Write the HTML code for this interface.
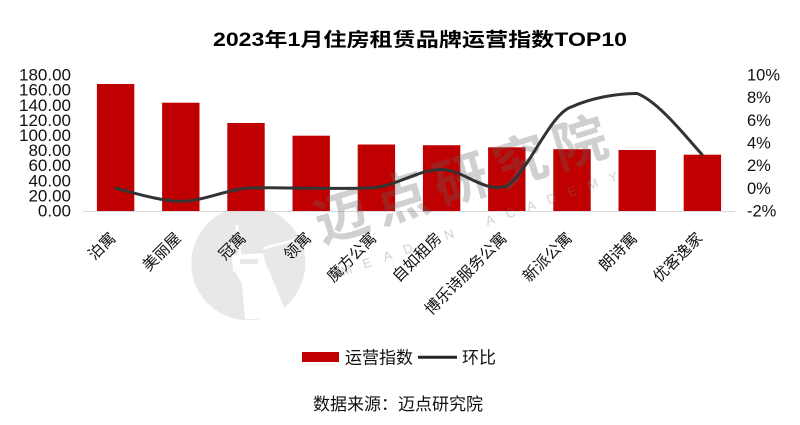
<!DOCTYPE html>
<html><head><meta charset="utf-8"><style>
html,body{margin:0;padding:0;background:#fff;}
svg{display:block;}
text{font-family:"Liberation Sans","Noto Sans CJK SC",sans-serif;}
</style></head><body>
<svg width="800" height="425" viewBox="0 0 800 425" xmlns="http://www.w3.org/2000/svg">
<rect width="800" height="425" fill="#fff"/>
<!-- title -->
<text x="213" y="46" font-size="19" font-weight="bold" fill="#000" textLength="414" lengthAdjust="spacingAndGlyphs">2023年1月住房租赁品牌运营指数TOP10</text>

<!-- watermark circle -->
<circle cx="248.3" cy="263.3" r="57" fill="#e8e8e8"/>
<g fill="#fff">
<polygon points="235,271.7 268.3,268.3 285,310 280,318.3 245,319.3 241.7,283.3"/>
<polygon points="231.7,255 263.3,253.3 266.7,268.3 233.3,271.7"/>
<line x1="236.7" y1="225" x2="240" y2="255" stroke="#fff" stroke-width="2.5"/>
<line x1="263.3" y1="248.3" x2="295" y2="240" stroke="#fff" stroke-width="2.5"/>
</g>
<rect x="240" y="259" width="18" height="5" fill="#e8e8e8"/>

<!-- bars -->
<g fill="#C00000">
<rect x="96.9" y="84" width="37.4" height="127"/>
<rect x="162.1" y="102.7" width="37.4" height="108.3"/>
<rect x="227.3" y="123" width="37.4" height="88"/>
<rect x="292.5" y="135.7" width="37.4" height="75.3"/>
<rect x="357.7" y="144.5" width="37.4" height="66.5"/>
<rect x="422.9" y="145.2" width="37.4" height="65.8"/>
<rect x="488.1" y="147.3" width="37.4" height="63.7"/>
<rect x="553.3" y="149.2" width="37.4" height="61.8"/>
<rect x="618.5" y="150" width="37.4" height="61"/>
<rect x="683.7" y="154.7" width="37.4" height="56.3"/>
</g>
<line x1="83" y1="211.5" x2="735" y2="211.5" stroke="#d9d9d9" stroke-width="1"/>

<!-- watermark text -->
<g fill="rgba(100,100,100,0.3)" font-size="54" font-weight="bold" text-anchor="middle">
<text x="342" y="236" transform="rotate(-17 342 217)">迈</text>
<text x="401.5" y="217.5" transform="rotate(-17 401.5 198.5)">点</text>
<text x="461" y="199" transform="rotate(-17 461 180)">研</text>
<text x="520.5" y="180.5" transform="rotate(-17 520.5 161.5)">究</text>
<text x="580" y="162" transform="rotate(-17 580 143)">院</text>
</g>
<g fill="rgba(120,120,120,0.35)" font-size="13" text-anchor="middle">
<text x="346.5" y="274.5" transform="rotate(-19 346.5 270)">M</text>
<text x="367" y="267.5" transform="rotate(-19 367 263)">E</text>
<text x="387.5" y="260.3" transform="rotate(-19 387.5 255.8)">A</text>
<text x="408" y="253.2" transform="rotate(-19 408 248.7)">D</text>
<text x="428.5" y="246" transform="rotate(-19 428.5 241.5)">I</text>
<text x="449" y="238.9" transform="rotate(-19 449 234.4)">N</text>
<text x="490" y="224.5" transform="rotate(-19 490 220)">A</text>
<text x="510.5" y="217.3" transform="rotate(-19 510.5 212.8)">C</text>
<text x="531" y="210.2" transform="rotate(-19 531 205.7)">A</text>
<text x="551.5" y="203" transform="rotate(-19 551.5 198.5)">D</text>
<text x="572" y="195.9" transform="rotate(-19 572 191.4)">E</text>
<text x="592.5" y="188.7" transform="rotate(-19 592.5 184.2)">M</text>
<text x="613" y="181.5" transform="rotate(-19 613 177)">Y</text>
</g>

<!-- line series -->
<path d="M115.6,188.3 C126.5,190.5 159,201.3 180.8,201.3 C202.5,201.3 224.3,190.5 246,188.3 C267.7,186.8 289.5,188.3 311.2,188.3 C332.9,188.3 354.7,189 376.4,187.5 C398,184.5 420,169.3 441.6,169.5 C463,169.3 485,194 506.8,186 C528.5,172 550,113 572,106.7 C590,98.5 615,93.5 637.2,93.5 C659,102 686,137 702,154.5" fill="none" stroke="#333" stroke-width="3" stroke-linecap="round" stroke-linejoin="round"/>

<!-- left axis labels -->
<g font-size="17" text-anchor="end" fill="#111">
<text x="71" y="216.5">0.00</text>
<text x="71" y="201.4">20.00</text>
<text x="71" y="186.3">40.00</text>
<text x="71" y="171.2">60.00</text>
<text x="71" y="156.1">80.00</text>
<text x="71" y="141">100.00</text>
<text x="71" y="125.9">120.00</text>
<text x="71" y="110.8">140.00</text>
<text x="71" y="95.7">160.00</text>
<text x="71" y="80.6">180.00</text>
</g>
<!-- right axis labels -->
<g font-size="16.5" fill="#111">
<text x="747" y="216.5">-2%</text>
<text x="747" y="193.8">0%</text>
<text x="747" y="171.2">2%</text>
<text x="747" y="148.5">4%</text>
<text x="747" y="125.9">6%</text>
<text x="747" y="103.2">8%</text>
<text x="747" y="80.6">10%</text>
</g>

<!-- category labels -->
<g font-size="15.5" text-anchor="end" fill="#111">
<text x="116.6" y="239" transform="rotate(-45 116.6 239)">泊寓</text>
<text x="181.8" y="239" transform="rotate(-45 181.8 239)">美丽屋</text>
<text x="247" y="239" transform="rotate(-45 247 239)">冠寓</text>
<text x="312.2" y="239" transform="rotate(-45 312.2 239)">领寓</text>
<text x="377.4" y="239" transform="rotate(-45 377.4 239)">魔方公寓</text>
<text x="442.6" y="239" transform="rotate(-45 442.6 239)">自如租房</text>
<text x="507.8" y="239" transform="rotate(-45 507.8 239)">博乐诗服务公寓</text>
<text x="573" y="239" transform="rotate(-45 573 239)">新派公寓</text>
<text x="638.2" y="239" transform="rotate(-45 638.2 239)">朗诗寓</text>
<text x="703.4" y="239" transform="rotate(-45 703.4 239)">优客逸家</text>
</g>

<!-- legend -->
<rect x="302" y="352" width="37" height="10" fill="#C00000"/>
<text x="345" y="363.5" font-size="17" fill="#111">运营指数</text>
<line x1="418" y1="357.3" x2="457" y2="357.3" stroke="#262626" stroke-width="3"/>
<text x="462" y="363.5" font-size="17" fill="#111">环比</text>

<!-- source -->
<text x="398" y="410" font-size="17" text-anchor="middle" fill="#111">数据来源：迈点研究院</text>
</svg>
</body></html>
